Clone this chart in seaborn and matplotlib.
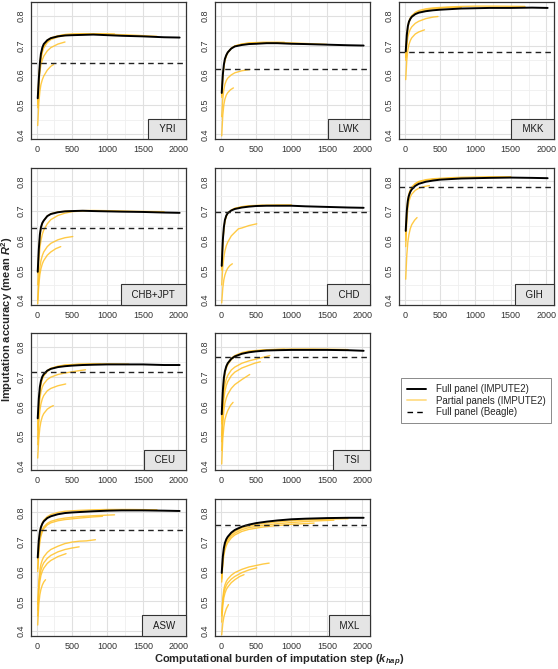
import matplotlib
matplotlib.use('Agg')
import matplotlib.pyplot as plt
from matplotlib.lines import Line2D
import seaborn as sns
import pandas as pd

# populations, panel order (left to right, top to bottom)
populations = ['YRI', 'LWK', 'MKK', 'CHB+JPT', 'CHD', 'GIH', 'CEU', 'TSI', 'ASW', 'MXL']

# full reference panel (IMPUTE2), k_hap grid shared by all populations
full_k = [15, 30, 45, 60, 80, 100, 150, 200, 300, 400, 500, 650, 800, 1000, 1200, 1500, 1800, 2020]
yri_full = [0.522, 0.585, 0.640, 0.672, 0.693, 0.705, 0.718, 0.725, 0.731, 0.734, 0.735, 0.736, 0.737, 0.735, 0.733, 0.731, 0.728, 0.727]
lwk_full = [0.540, 0.600, 0.635, 0.655, 0.668, 0.677, 0.690, 0.697, 0.702, 0.705, 0.706, 0.708, 0.708, 0.706, 0.705, 0.703, 0.701, 0.700]
mkk_full = [0.680, 0.735, 0.765, 0.780, 0.790, 0.797, 0.806, 0.811, 0.816, 0.819, 0.821, 0.823, 0.825, 0.826, 0.827, 0.827, 0.828, 0.827]
chbjpt_full = [0.495, 0.570, 0.620, 0.645, 0.660, 0.668, 0.683, 0.690, 0.696, 0.699, 0.700, 0.701, 0.700, 0.699, 0.698, 0.697, 0.695, 0.694]
chd_full = [0.515, 0.600, 0.645, 0.670, 0.685, 0.693, 0.702, 0.707, 0.712, 0.715, 0.717, 0.718, 0.718, 0.718, 0.716, 0.714, 0.712, 0.711]
gih_full = [0.633, 0.700, 0.735, 0.752, 0.765, 0.773, 0.785, 0.792, 0.799, 0.803, 0.806, 0.808, 0.810, 0.811, 0.812, 0.813, 0.812, 0.811]
ceu_full = [0.559, 0.625, 0.665, 0.685, 0.700, 0.708, 0.720, 0.726, 0.732, 0.735, 0.737, 0.739, 0.740, 0.741, 0.741, 0.741, 0.739, 0.739]
tsi_full = [0.573, 0.650, 0.695, 0.718, 0.735, 0.745, 0.760, 0.768, 0.777, 0.782, 0.785, 0.788, 0.789, 0.790, 0.790, 0.790, 0.789, 0.787]
asw_full = [0.648, 0.705, 0.735, 0.750, 0.762, 0.770, 0.781, 0.787, 0.794, 0.798, 0.800, 0.802, 0.804, 0.806, 0.807, 0.807, 0.806, 0.805]
mxl_full = [0.596, 0.650, 0.680, 0.697, 0.710, 0.718, 0.732, 0.741, 0.752, 0.759, 0.764, 0.769, 0.773, 0.777, 0.779, 0.781, 0.782, 0.782]

# full reference panel (Beagle), one value per population
beagle_r2 = [0.640, 0.621, 0.678, 0.643, 0.697, 0.781, 0.716, 0.767, 0.742, 0.758]

# partial reference panels (IMPUTE2): (k_hap, mean R2) pairs per curve
yri_partial = [
    [(15, 0.49), (30, 0.57), (45, 0.61), (60, 0.635), (80, 0.652), (100, 0.664), (150, 0.682), (200, 0.693), (300, 0.705), (400, 0.712)],
    [(15, 0.43), (30, 0.505), (45, 0.545), (60, 0.568), (80, 0.585), (100, 0.597), (150, 0.617), (200, 0.630), (240, 0.636)],
    [(15, 0.50), (30, 0.575), (45, 0.625), (60, 0.655), (80, 0.677), (100, 0.692), (150, 0.71), (200, 0.72), (300, 0.729), (400, 0.734), (500, 0.736), (700, 0.738)],
    [(15, 0.51), (30, 0.58), (45, 0.63), (60, 0.66), (80, 0.683), (100, 0.697), (150, 0.715), (200, 0.724), (300, 0.732), (400, 0.737), (500, 0.739), (700, 0.740), (900, 0.740), (1100, 0.739)],
    [(15, 0.52), (30, 0.585), (45, 0.638), (60, 0.668), (80, 0.69), (100, 0.703), (150, 0.718), (200, 0.726), (300, 0.733), (400, 0.737), (600, 0.739), (800, 0.739), (1000, 0.738), (1300, 0.736), (1700, 0.731)],
]
lwk_partial = [
    [(15, 0.46), (30, 0.52), (45, 0.552), (60, 0.569), (80, 0.582), (100, 0.59), (150, 0.601), (200, 0.608), (300, 0.615), (410, 0.619)],
    [(15, 0.395), (30, 0.465), (45, 0.50), (60, 0.519), (80, 0.533), (100, 0.541), (140, 0.551), (180, 0.557)],
    [(15, 0.525), (30, 0.59), (45, 0.628), (60, 0.649), (80, 0.664), (100, 0.675), (150, 0.69), (200, 0.698), (300, 0.705), (400, 0.709), (600, 0.711), (900, 0.711)],
    [(15, 0.53), (30, 0.595), (45, 0.632), (60, 0.652), (80, 0.667), (100, 0.677), (150, 0.691), (200, 0.699), (300, 0.705), (400, 0.708), (600, 0.71), (800, 0.71), (1000, 0.709), (1200, 0.707), (1500, 0.704)],
]
mkk_partial = [
    [(15, 0.65), (30, 0.70), (45, 0.728), (60, 0.743), (80, 0.755), (100, 0.763), (150, 0.775), (200, 0.782), (300, 0.791), (400, 0.796), (470, 0.798)],
    [(15, 0.585), (30, 0.65), (45, 0.685), (60, 0.703), (80, 0.717), (100, 0.726), (150, 0.739), (200, 0.746), (280, 0.753)],
    [(15, 0.66), (30, 0.725), (45, 0.76), (60, 0.777), (80, 0.789), (100, 0.797), (150, 0.808), (200, 0.814), (300, 0.82), (400, 0.824), (600, 0.828), (800, 0.829)],
    [(15, 0.66), (30, 0.73), (45, 0.765), (60, 0.782), (80, 0.794), (100, 0.801), (150, 0.812), (200, 0.818), (300, 0.824), (400, 0.827), (600, 0.83), (800, 0.832), (1000, 0.833), (1300, 0.833), (1700, 0.832)],
]
chbjpt_partial = [
    [(15, 0.40), (30, 0.47), (45, 0.51), (60, 0.532), (80, 0.55), (100, 0.562), (150, 0.58), (200, 0.591), (300, 0.603), (400, 0.61), (510, 0.614)],
    [(15, 0.387), (30, 0.45), (45, 0.485), (60, 0.505), (80, 0.522), (100, 0.533), (150, 0.551), (200, 0.562), (270, 0.573), (340, 0.58)],
    [(15, 0.45), (30, 0.53), (45, 0.575), (60, 0.60), (80, 0.622), (100, 0.636), (150, 0.657), (200, 0.671), (300, 0.685), (400, 0.693), (500, 0.698), (700, 0.701)],
    [(15, 0.49), (30, 0.565), (45, 0.615), (60, 0.64), (80, 0.657), (100, 0.667), (150, 0.683), (200, 0.691), (300, 0.697), (500, 0.701), (800, 0.702), (1100, 0.701), (1400, 0.699), (1800, 0.698)],
]
chd_partial = [
    [(15, 0.45), (30, 0.51), (45, 0.545), (60, 0.565), (80, 0.583), (100, 0.595), (150, 0.616), (200, 0.628), (250, 0.640), (300, 0.643), (400, 0.651), (510, 0.657)],
    [(15, 0.39), (30, 0.44), (45, 0.468), (60, 0.484), (80, 0.498), (100, 0.507), (130, 0.516), (165, 0.522)],
    [(15, 0.50), (30, 0.59), (45, 0.64), (60, 0.665), (80, 0.682), (100, 0.692), (150, 0.703), (200, 0.709), (300, 0.715), (400, 0.718), (600, 0.72), (800, 0.721), (1000, 0.721)],
    [(15, 0.51), (30, 0.595), (45, 0.642), (60, 0.668), (80, 0.684), (100, 0.693), (150, 0.703), (200, 0.709), (300, 0.714), (400, 0.717), (600, 0.719)],
]
gih_partial = [
    [(15, 0.47), (30, 0.55), (45, 0.595), (60, 0.62), (80, 0.641), (100, 0.654), (140, 0.669), (175, 0.678)],
    [(15, 0.58), (30, 0.665), (45, 0.71), (60, 0.732), (80, 0.748), (100, 0.757), (150, 0.77), (200, 0.777), (280, 0.783), (350, 0.786)],
    [(15, 0.60), (30, 0.69), (45, 0.735), (60, 0.755), (80, 0.769), (100, 0.778), (150, 0.791), (200, 0.798), (300, 0.804), (400, 0.807), (550, 0.809), (700, 0.811)],
    [(15, 0.62), (30, 0.70), (45, 0.74), (60, 0.758), (80, 0.772), (100, 0.781), (150, 0.793), (200, 0.80), (300, 0.806), (400, 0.809), (600, 0.812), (800, 0.814), (1000, 0.815), (1200, 0.816), (1500, 0.816)],
]
ceu_partial = [
    [(15, 0.49), (30, 0.58), (45, 0.625), (60, 0.648), (80, 0.665), (100, 0.675), (150, 0.69), (200, 0.698), (300, 0.707), (400, 0.712), (500, 0.716), (600, 0.72), (690, 0.723)],
    [(15, 0.47), (30, 0.545), (45, 0.585), (60, 0.607), (80, 0.625), (100, 0.636), (150, 0.652), (200, 0.66), (300, 0.669), (410, 0.675)],
    [(15, 0.425), (30, 0.49), (45, 0.527), (60, 0.548), (80, 0.565), (100, 0.575), (150, 0.59), (200, 0.598), (235, 0.602)],
    [(15, 0.52), (30, 0.605), (45, 0.65), (60, 0.675), (80, 0.692), (100, 0.702), (150, 0.717), (200, 0.726), (300, 0.734), (400, 0.738), (600, 0.741), (900, 0.742)],
    [(15, 0.53), (30, 0.61), (45, 0.655), (60, 0.678), (80, 0.695), (100, 0.705), (150, 0.72), (200, 0.728), (300, 0.735), (400, 0.739), (600, 0.742), (800, 0.743), (1000, 0.743), (1300, 0.742)],
]
tsi_partial = [
    [(15, 0.50), (30, 0.60), (45, 0.648), (60, 0.673), (80, 0.692), (100, 0.704), (150, 0.722), (200, 0.732), (300, 0.745), (400, 0.753), (500, 0.759), (600, 0.765), (695, 0.771)],
    [(15, 0.48), (30, 0.575), (45, 0.625), (60, 0.65), (80, 0.67), (100, 0.683), (150, 0.703), (200, 0.715), (300, 0.729), (400, 0.738), (480, 0.745), (560, 0.75)],
    [(15, 0.45), (30, 0.54), (45, 0.585), (60, 0.61), (80, 0.628), (100, 0.64), (150, 0.66), (200, 0.673), (300, 0.69), (410, 0.707)],
    [(15, 0.405), (30, 0.49), (45, 0.53), (60, 0.555), (80, 0.572), (100, 0.585), (140, 0.603), (175, 0.613)],
    [(15, 0.54), (30, 0.635), (45, 0.685), (60, 0.71), (80, 0.728), (100, 0.74), (150, 0.757), (200, 0.767), (300, 0.778), (400, 0.784), (600, 0.789), (900, 0.792)],
    [(15, 0.55), (30, 0.64), (45, 0.69), (60, 0.715), (80, 0.733), (100, 0.745), (150, 0.762), (200, 0.771), (300, 0.781), (400, 0.786), (600, 0.79), (800, 0.792), (1000, 0.793), (1300, 0.793), (1600, 0.792), (1800, 0.791)],
]
asw_partial = [
    [(15, 0.61), (30, 0.675), (45, 0.71), (60, 0.728), (80, 0.742), (100, 0.751), (150, 0.763), (200, 0.77), (300, 0.777), (400, 0.781), (600, 0.786), (800, 0.789), (1100, 0.792)],
    [(15, 0.60), (30, 0.665), (45, 0.70), (60, 0.72), (80, 0.735), (100, 0.745), (150, 0.758), (200, 0.765), (300, 0.772), (400, 0.776), (600, 0.781), (800, 0.785), (930, 0.787)],
    [(15, 0.49), (30, 0.57), (45, 0.605), (60, 0.625), (80, 0.64), (100, 0.65), (150, 0.665), (200, 0.675), (300, 0.686), (400, 0.695), (500, 0.70), (600, 0.703), (700, 0.704), (830, 0.708)],
    [(15, 0.47), (30, 0.55), (45, 0.585), (60, 0.605), (80, 0.62), (100, 0.63), (150, 0.645), (200, 0.655), (300, 0.667), (400, 0.675), (500, 0.68), (600, 0.684)],
    [(15, 0.45), (30, 0.53), (45, 0.567), (60, 0.587), (80, 0.602), (100, 0.612), (150, 0.628), (200, 0.638), (300, 0.651), (415, 0.661)],
    [(15, 0.42), (30, 0.49), (45, 0.522), (60, 0.54), (80, 0.555), (100, 0.565), (125, 0.573)],
    [(15, 0.64), (30, 0.70), (45, 0.735), (60, 0.752), (80, 0.765), (100, 0.774), (150, 0.786), (200, 0.793), (300, 0.80), (400, 0.804), (600, 0.807), (800, 0.809), (1000, 0.81), (1300, 0.81), (1700, 0.809)],
]
mxl_partial = [
    [(15, 0.58), (30, 0.64), (45, 0.672), (60, 0.69), (80, 0.703), (100, 0.712), (150, 0.727), (200, 0.736), (300, 0.748), (400, 0.755), (600, 0.763), (800, 0.768), (1000, 0.772), (1300, 0.776), (1600, 0.778), (1800, 0.779)],
    [(15, 0.575), (30, 0.635), (45, 0.665), (60, 0.683), (80, 0.697), (100, 0.706), (150, 0.721), (200, 0.73), (300, 0.742), (400, 0.749), (600, 0.757), (800, 0.762), (1000, 0.766), (1300, 0.771), (1600, 0.774)],
    [(15, 0.565), (30, 0.625), (45, 0.655), (60, 0.673), (80, 0.688), (100, 0.698), (150, 0.714), (200, 0.724), (300, 0.736), (400, 0.743), (600, 0.751), (800, 0.756), (1000, 0.76), (1320, 0.764)],
    [(15, 0.46), (30, 0.51), (45, 0.54), (60, 0.555), (80, 0.567), (100, 0.575), (150, 0.588), (200, 0.597), (300, 0.608), (400, 0.616), (500, 0.621), (600, 0.626), (685, 0.629)],
    [(15, 0.45), (30, 0.50), (45, 0.527), (60, 0.542), (80, 0.554), (100, 0.562), (150, 0.575), (200, 0.584), (300, 0.597), (400, 0.606), (510, 0.613)],
    [(15, 0.43), (30, 0.485), (45, 0.512), (60, 0.527), (80, 0.54), (100, 0.548), (150, 0.563), (200, 0.573), (270, 0.584), (330, 0.59)],
    [(15, 0.387), (30, 0.425), (45, 0.447), (60, 0.46), (80, 0.475), (110, 0.489)],
]

full_curves = [yri_full, lwk_full, mkk_full, chbjpt_full, chd_full,
               gih_full, ceu_full, tsi_full, asw_full, mxl_full]
partial_curves = [yri_partial, lwk_partial, mkk_partial, chbjpt_partial, chd_partial,
                  gih_partial, ceu_partial, tsi_partial, asw_partial, mxl_partial]

# long tables for seaborn
full_rows = []
part_rows = []
for pop, full, parts in zip(populations, full_curves, partial_curves):
    for k, r2 in zip(full_k, full):
        full_rows.append({'pop': pop, 'k': k, 'r2': r2})
    for i, curve in enumerate(parts):
        for k, r2 in curve:
            part_rows.append({'pop': pop, 'curve': i, 'k': k, 'r2': r2})
full_df = pd.DataFrame(full_rows)
part_df = pd.DataFrame(part_rows)

sns.set_theme(style='whitegrid')
plt.rcParams['font.family'] = ['Liberation Sans', 'DejaVu Sans']
plt.rcParams['mathtext.fontset'] = 'custom'
plt.rcParams['mathtext.rm'] = 'Liberation Sans:bold'
plt.rcParams['mathtext.it'] = 'Liberation Sans:bold:italic'
plt.rcParams['mathtext.bf'] = 'Liberation Sans:bold'

orange = '#FFC125'
fig, axes = plt.subplots(4, 3, figsize=(5.58, 6.69), dpi=100)
fig.subplots_adjust(left=31 / 558, right=554 / 558, top=1 - 2 / 669, bottom=1 - 636 / 669,
                    wspace=0.187, hspace=0.204)

slots = [(0, 0), (0, 1), (0, 2), (1, 0), (1, 1), (1, 2), (2, 0), (2, 1), (3, 0), (3, 1)]
axes[2, 2].axis('off')
axes[3, 2].axis('off')

for pop, beagle, (r, c) in zip(populations, beagle_r2, slots):
    ax = axes[r, c]
    sns.lineplot(data=part_df[part_df['pop'] == pop], x='k', y='r2', units='curve',
                 estimator=None, color=orange, alpha=0.85, lw=1.0, ax=ax, legend=False)
    sns.lineplot(data=full_df[full_df['pop'] == pop], x='k', y='r2',
                 color='black', lw=1.4, ax=ax, legend=False)
    ax.axhline(beagle, color='#222222', lw=1.0, ls=(0, (4, 3)))

    ax.set_xlim(-80, 2110)
    ax.set_ylim(0.383, 0.847)
    ax.set_xticks([0, 500, 1000, 1500, 2000])
    ax.set_xticks([250, 750, 1250, 1750], minor=True)
    ax.set_yticks([0.4, 0.5, 0.6, 0.7, 0.8])
    ax.set_yticks([0.45, 0.55, 0.65, 0.75], minor=True)
    ax.grid(which='major', color='#E0E0E0', lw=0.8)
    ax.grid(which='minor', color='#EFEFEF', lw=0.6)
    ax.tick_params(which='minor', length=0)
    ax.tick_params(which='major', length=2.5, width=0.6, color='#333333',
                   labelsize=6.5, labelcolor='#333333', pad=1.5)
    ax.tick_params(axis='y', labelrotation=90)
    for lab in ax.get_yticklabels():
        lab.set_va('center')
    ax.set_xlabel('')
    ax.set_ylabel('')
    for sp in ax.spines.values():
        sp.set_color('#333333')
        sp.set_linewidth(0.9)

    ax.annotate('  ' + pop + '  ', xy=(1, 0), xycoords='axes fraction',
                xytext=(-3.9, 3.9), textcoords='offset points', ha='right', va='bottom',
                fontsize=7, color='#1A1A1A', zorder=5,
                bbox=dict(boxstyle='square,pad=0.55', fc='#E5E5E5', ec='#333333', lw=0.8))

handles = [Line2D([], [], color='black', lw=1.4),
           Line2D([], [], color=orange, alpha=0.5, lw=1.4),
           Line2D([], [], color='black', lw=1.0, ls=(0, (4, 3)))]
labels = ['Full panel (IMPUTE2)', 'Partial panels (IMPUTE2)', 'Full panel (Beagle)']
leg = fig.legend(handles, labels, loc='center', bbox_to_anchor=(0.853, 0.401),
                 fontsize=7, frameon=True, fancybox=False, edgecolor='#555555',
                 handlelength=2.0, labelspacing=0.15, borderpad=0.6, handletextpad=1.0)
leg.get_frame().set_linewidth(0.6)

fig.text(0.5, 0.012, r'Computational burden of imputation step ($k_{hap}$)',
         ha='center', va='center', fontsize=8, fontweight='bold')
fig.text(0.012, 0.523, r'Imputation accuracy (mean $R^2$)', rotation=90,
         ha='center', va='center', fontsize=8, fontweight='bold')

fig.savefig('out.png', dpi=100)
